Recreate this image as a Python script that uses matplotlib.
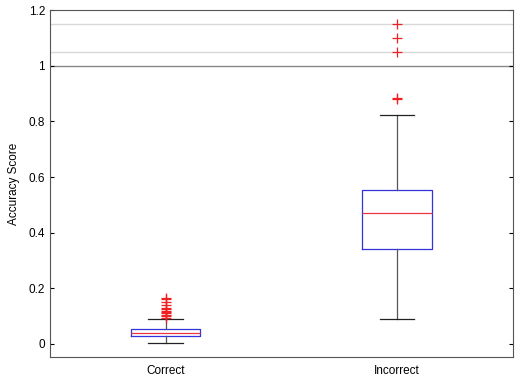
import matplotlib
matplotlib.use("Agg")
import matplotlib.pyplot as plt

plt.rcParams['font.family'] = ['Liberation Sans', 'DejaVu Sans']

# group labels and box statistics
groups = ['Correct', 'Incorrect']
whisk_lo = [0.005, 0.09]
q1 = [0.028, 0.34]
med = [0.040, 0.47]
q3 = [0.052, 0.555]
whisk_hi = [0.09, 0.825]
outliers = [
    [0.095, 0.10, 0.105, 0.11, 0.115, 0.12, 0.125, 0.13, 0.14, 0.15, 0.16, 0.165],
    [0.88, 0.885, 1.05, 1.10, 1.15],
]
ref_lines = [1.0, 1.05, 1.15]

stats = []
for i, g in enumerate(groups):
    stats.append(dict(label=g, whislo=whisk_lo[i], q1=q1[i], med=med[i],
                      q3=q3[i], whishi=whisk_hi[i], fliers=outliers[i]))

fig = plt.figure(figsize=(5.2, 3.79), dpi=100)
ax = fig.add_axes([0.096, 0.058, 0.890, 0.915])

ax.axhline(ref_lines[0], color='#888888', lw=1.0, zorder=0)
for y in ref_lines[1:]:
    ax.axhline(y, color='#d8d8d8', lw=1.0, zorder=0)

ax.bxp(stats, widths=0.3, showfliers=True,
       boxprops=dict(color='#3333dd', lw=0.9),
       medianprops=dict(color='#ee3344', lw=0.9),
       whiskerprops=dict(color='#555555', lw=0.9),
       capprops=dict(color='#222222', lw=0.9),
       capwidths=0.15,
       flierprops=dict(marker='+', markeredgecolor='#ee2222',
                       markersize=7, markeredgewidth=0.9, linestyle='none'))

ax.set_xlim(0.5, 2.5)
ax.set_ylim(-0.047, 1.2)
ax.set_yticks([0, 0.2, 0.4, 0.6, 0.8, 1, 1.2])
ax.set_yticklabels(['0', '0.2', '0.4', '0.6', '0.8', '1', '1.2'])
ax.tick_params(direction='in', labelsize=8.5, length=3, right=True, top=False)
ax.tick_params(axis='x', length=0, pad=6)
for s in ax.spines.values():
    s.set_color('#555555')
ax.set_ylabel('Accuracy Score', fontsize=8.5, labelpad=6)

fig.savefig('out.png', dpi=100)
